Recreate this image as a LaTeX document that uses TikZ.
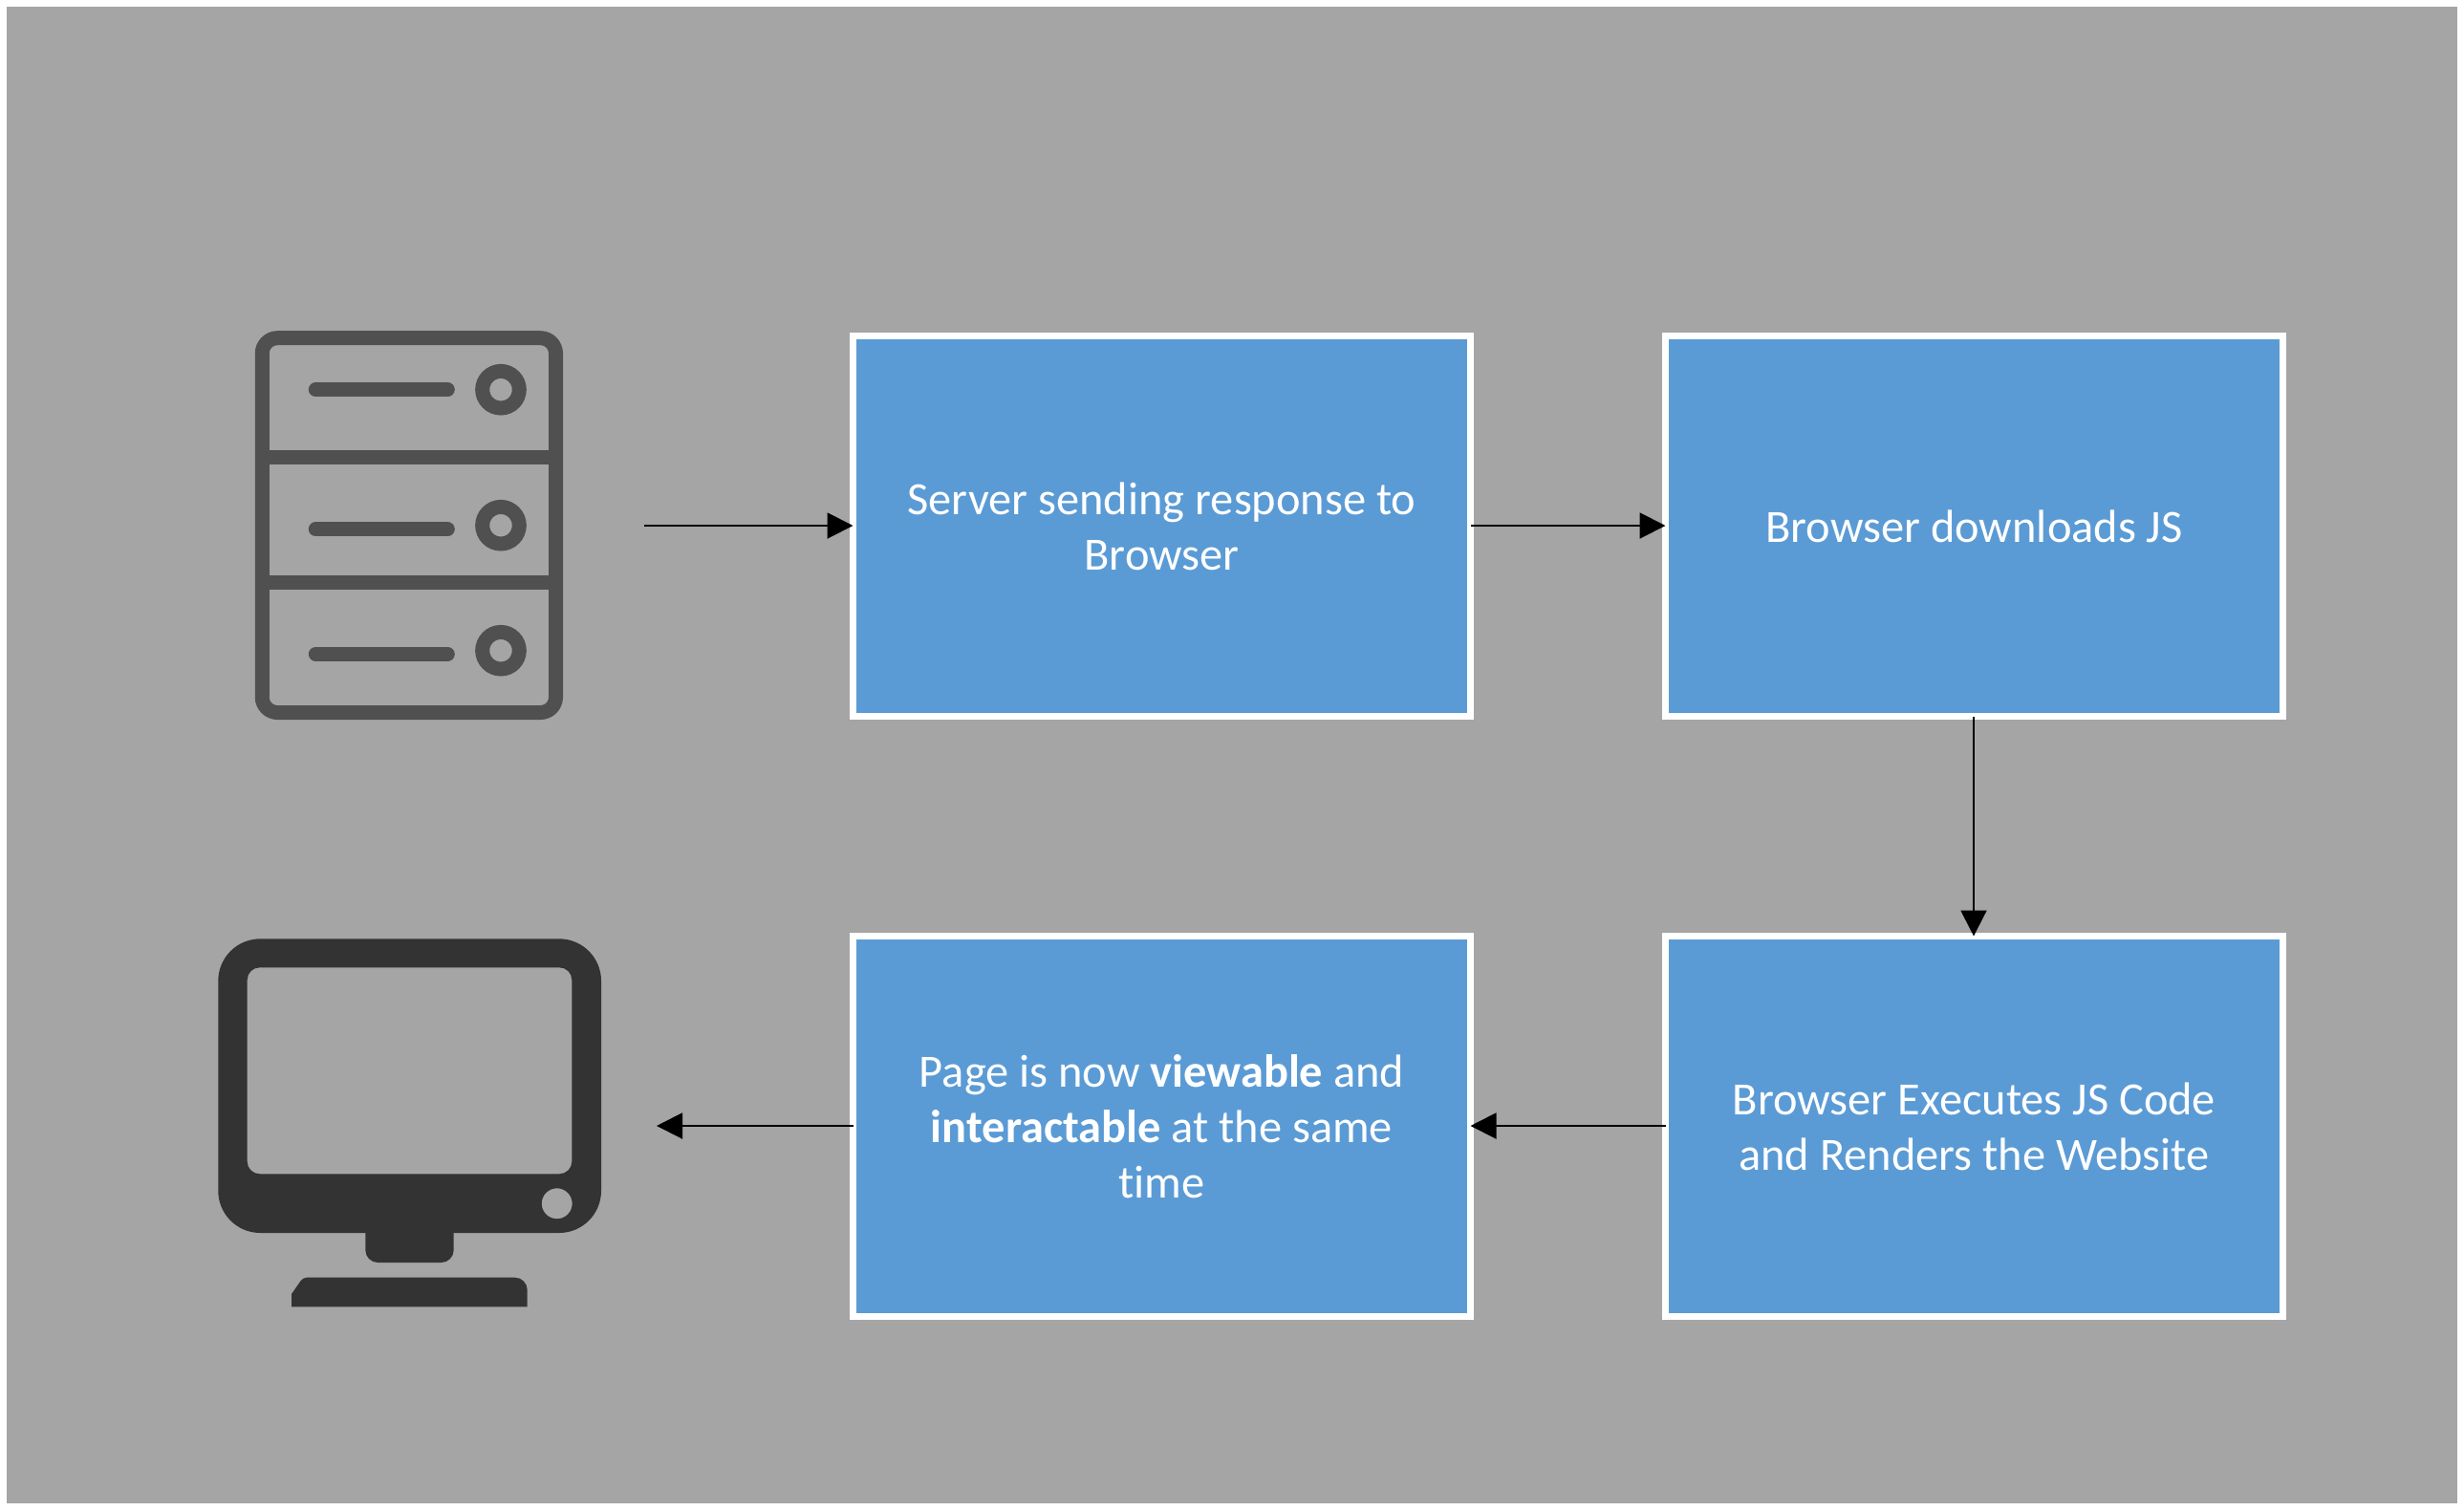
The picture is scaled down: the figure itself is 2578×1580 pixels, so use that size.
\documentclass[tikz,border=0pt]{standalone}
\usepackage{fontspec}
\setmainfont[Ligatures=CommonOff]{Carlito}
\usetikzlibrary{arrows.meta}
\definecolor{panel}{HTML}{A5A5A5}
\definecolor{boxblue}{HTML}{5B9BD5}
\definecolor{servergray}{HTML}{505050}
\definecolor{monitorgray}{HTML}{333333}
\newcommand{\boxlines}[1]{\raisebox{-5.5pt}[\height][\depth]{\begin{tabular}{@{}c@{}}#1\end{tabular}}}
\tikzset{
  stepbox/.style={draw=white,fill=boxblue,line width=7pt,outer sep=0pt,inner sep=0pt,
    minimum width=646pt,minimum height=398pt,text=white,anchor=center,
    font=\fontsize{48.4}{58}\selectfont},
  flow/.style={draw=black,line width=2pt,-{Triangle[length=27pt,width=27pt]}},
  srvline/.style={draw=servergray,line width=15pt},
}
\begin{document}
\begin{tikzpicture}[x=1pt,y=-1pt]
\useasboundingbox (0,0) rectangle (2578,1580);
\fill[white] (0,0) rectangle (2578,1580);
\fill[panel] (7,7) rectangle (2571,1573);
% server icon
\draw[srvline,rounded corners=16pt] (274.3,353.7) rectangle (581.5,745.5);
\draw[srvline] (274.3,478.3) -- (581.5,478.3);
\draw[srvline] (274.3,609) -- (581.5,609);
\draw[srvline,line cap=round] (330.3,407.7) -- (468.3,407.7);
\draw[srvline,line cap=round] (330.3,553.7) -- (468.3,553.7);
\draw[srvline,line cap=round] (330.3,684.3) -- (468.3,684.3);
\draw[srvline] (524,407.7) circle[radius=19.3pt];
\draw[srvline] (524,549.7) circle[radius=19.3pt];
\draw[srvline] (524,680.7) circle[radius=19.3pt];
% monitor icon
\fill[monitorgray,even odd rule]
  [rounded corners=44pt] (228.3,982.3) rectangle (629,1290)
  [rounded corners=13pt] (258.7,1012.3) rectangle (598.3,1228.3)
  [sharp corners] (582.7,1259.3) circle[radius=16pt];
\fill[monitorgray] (382.3,1285) [rounded corners=13pt] -- (382.3,1321) -- (474.7,1321) [sharp corners] -- (474.7,1285) -- cycle;
\fill[monitorgray] (305,1367.3) -- (305,1354) [rounded corners=4pt] -- (317,1336.7) [rounded corners=13pt] -- (551.7,1336.7) [sharp corners] -- (551.7,1367.3) -- cycle;
% process boxes
\node[stepbox] (respond) at (1215.5,550.5) {\boxlines{Server sending response to\\Browser}};
\node[stepbox] (download) at (2065.5,550.5) {\boxlines{Browser downloads JS}};
\node[stepbox] (execute) at (2065.5,1178.5) {\boxlines{Browser Executes JS Code\\and Renders the Website}};
\node[stepbox] (view) at (1215.5,1178.5) {\boxlines{Page is now \textbf{viewable} and\\\textbf{interactable} at the same\\time}};
% connectors
\coordinate (serverout) at (674,550);
\coordinate (monitorin) at (687,1178);
\draw[flow] (serverout) -- ([yshift=.5pt]respond.west);
\draw[flow] ([yshift=.5pt]respond.east) -- ([yshift=.5pt]download.west);
\draw[flow] ([xshift=-.5pt]download.south) -- ([xshift=-.5pt]execute.north);
\draw[flow] ([yshift=.5pt]execute.west) -- ([yshift=.5pt]view.east);
\draw[flow] ([yshift=.5pt]view.west) -- (monitorin);
\end{tikzpicture}
\end{document}
